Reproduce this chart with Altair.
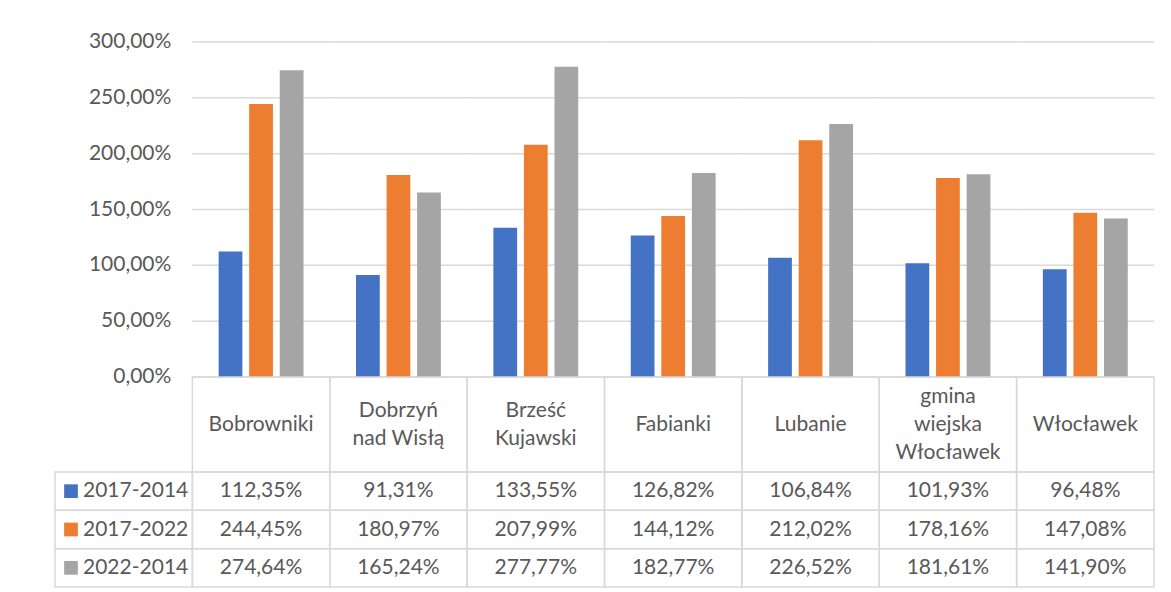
import altair as alt
import pandas as pd

categories = ["Bobrowniki", "Dobrzyń nad Wisłą", "Brześć Kujawski", "Fabianki",
              "Lubanie", "gmina wiejska Włocławek", "Włocławek"]
category_labels = ["Bobrowniki", "Dobrzyń\nnad Wisłą", "Brześć\nKujawski", "Fabianki",
                   "Lubanie", "gmina\nwiejska\nWłocławek", "Włocławek"]
series = ["2017-2014", "2017-2022", "2022-2014"]
s_2017_2014 = [112.35, 91.31, 133.55, 126.82, 106.84, 101.93, 96.48]
s_2017_2022 = [244.45, 180.97, 207.99, 144.12, 212.02, 178.16, 147.08]
s_2022_2014 = [274.64, 165.24, 277.77, 182.77, 226.52, 181.61, 141.90]
colors = ["#4472C4", "#ED7D31", "#A5A5A5"]
y_ticks = [0, 50, 100, 150, 200, 250, 300]

LEG = "__legend__"
FONT = "Lato"
TXT = "#595959"
GRID = "#D9D9D9"
FS = 21
LH = 28


def pct(v):
    return f"{v:.2f}".replace(".", ",") + "%"


values = [s_2017_2014, s_2017_2022, s_2022_2014]
bars = pd.DataFrame([
    {"col": c, "series": s, "v": vals[i], "label": pct(vals[i])}
    for s, vals in zip(series, values) for i, c in enumerate(categories)
])
grid = pd.DataFrame([{"col": c, "v": t} for c in categories for t in y_ticks])
ylab = pd.DataFrame([{"col": LEG, "v": t, "label": pct(t)} for t in y_ticks])
head = pd.DataFrame({"col": categories, "label": category_labels,
                     "lines": [lab.count("\n") + 1 for lab in category_labels]})
cells = pd.DataFrame([{"col": c, "series": s} for c in [LEG] + categories for s in series])
leg = pd.DataFrame({"col": [LEG] * 3, "series": series})

xs = alt.Scale(domain=[LEG] + categories, paddingInner=0, paddingOuter=0)
ys = alt.Scale(domain=[0, 300], nice=False, zero=True)
rows = alt.Scale(domain=series, paddingInner=0, paddingOuter=0)
cs = alt.Scale(domain=series, range=colors)

W = 1099

grid_layer = alt.Chart(grid).mark_rect(fillOpacity=0, stroke=GRID, strokeWidth=1.5).encode(
    x=alt.X("col:N", scale=xs, axis=None),
    y=alt.Y("v:Q", scale=ys, axis=None),
    y2="v:Q",
)
bar_layer = alt.Chart(bars).mark_bar().encode(
    x=alt.X("col:N", scale=xs, axis=None),
    xOffset=alt.XOffset("series:N", scale=alt.Scale(domain=series, paddingInner=0.223, paddingOuter=0.859)),
    y=alt.Y("v:Q", scale=ys, axis=None),
    color=alt.Color("series:N", scale=cs, legend=None),
)
ylab_layer = alt.Chart(ylab).mark_text(
    align="right", baseline="middle", dx=-21, font=FONT, fontSize=FS, color=TXT
).encode(
    x=alt.X("col:N", scale=xs, axis=None, bandPosition=1),
    y=alt.Y("v:Q", scale=ys, axis=None),
    text="label:N",
)
top = alt.layer(grid_layer, bar_layer, ylab_layer).properties(width=W, height=335)

head_cells = alt.Chart(head).mark_rect(fillOpacity=0, stroke=GRID, strokeWidth=1.5).encode(
    x=alt.X("col:N", scale=xs, axis=None),
)
head_layers = [head_cells]
for n in (1, 2, 3):
    head_layers.append(
        alt.Chart(head).transform_filter(alt.datum.lines == n).mark_text(
            lineBreak="\n", lineHeight=LH, baseline="middle", dy=-(n - 1) * LH / 2,
            font=FONT, fontSize=FS, color=TXT
        ).encode(
            x=alt.X("col:N", scale=xs, axis=None),
            text="label:N",
        )
    )
header = alt.layer(*head_layers).properties(width=W, height=95)

tab_cells = alt.Chart(cells).mark_rect(fillOpacity=0, stroke=GRID, strokeWidth=1.5).encode(
    x=alt.X("col:N", scale=xs, axis=None),
    y=alt.Y("series:N", scale=rows, axis=None),
)
tab_text = alt.Chart(bars).mark_text(baseline="middle", font=FONT, fontSize=FS, color=TXT).encode(
    x=alt.X("col:N", scale=xs, axis=None),
    y=alt.Y("series:N", scale=rows, axis=None),
    text="label:N",
)
leg_sq = alt.Chart(leg).mark_square(size=188, opacity=1, xOffset=16).encode(
    x=alt.X("col:N", scale=xs, axis=None, bandPosition=0),
    y=alt.Y("series:N", scale=rows, axis=None),
    color=alt.Color("series:N", scale=cs, legend=None),
)
leg_text = alt.Chart(leg).mark_text(
    align="left", baseline="middle", dx=28, font=FONT, fontSize=FS, color=TXT
).encode(
    x=alt.X("col:N", scale=xs, axis=None, bandPosition=0),
    y=alt.Y("series:N", scale=rows, axis=None),
    text="series:N",
)
table = alt.layer(tab_cells, tab_text, leg_sq, leg_text).properties(width=W, height=115)

chart = alt.vconcat(top, header, table, spacing=0, bounds="flush").properties(
    padding={"left": 46, "top": 23, "right": 5, "bottom": 0}
).configure_view(stroke=None)

chart.save("out.html", embed_options={"renderer": "svg", "actions": False})
